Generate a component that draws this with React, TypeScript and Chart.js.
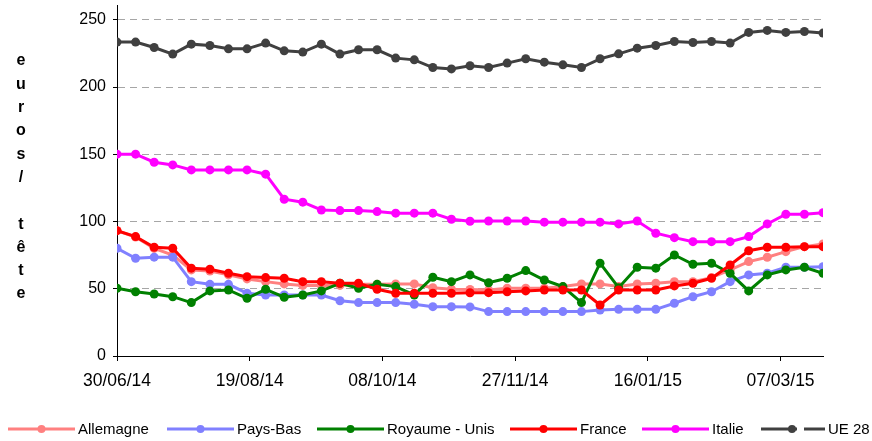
import React, { useEffect, useRef } from "react";
import { Chart, registerables } from "chart.js";

Chart.register(...registerables);

// Weekly observation dates
const weekDates = [
  "2014-06-30", "2014-07-07", "2014-07-14", "2014-07-21", "2014-07-28",
  "2014-08-04", "2014-08-11", "2014-08-18", "2014-08-25", "2014-09-01",
  "2014-09-08", "2014-09-15", "2014-09-22", "2014-09-29", "2014-10-06",
  "2014-10-13", "2014-10-20", "2014-10-27", "2014-11-03", "2014-11-10",
  "2014-11-17", "2014-11-24", "2014-12-01", "2014-12-08", "2014-12-15",
  "2014-12-22", "2014-12-29", "2015-01-05", "2015-01-12", "2015-01-19",
  "2015-01-26", "2015-02-02", "2015-02-09", "2015-02-16", "2015-02-23",
  "2015-03-02", "2015-03-09", "2015-03-16", "2015-03-23",
];

const tickLabels = ["30/06/14", "19/08/14", "08/10/14", "27/11/14", "16/01/15", "07/03/15"];

const seriesNames = ["Allemagne", "Pays-Bas", "Royaume - Unis", "France", "Italie", "UE 28"];

const allemagne = [
  93.2, 88.5, 80, 75, 64, 63.2, 60.3, 57.3, 55.3, 53.6,
  52.5, 52.5, 52.5, 53.3, 53.3, 53.6, 53.6, 50.8, 49.6, 49.5,
  49.1, 50.4, 50.4, 50.4, 51.6, 53.6, 53.6, 51.6, 53.6, 54.1,
  55.3, 55.3, 58.3, 64.0, 70.2, 73.4, 77.6, 81.3, 83.3,
];

const paysBas = [
  80.1, 72.7, 73.5, 73.5, 55.3, 53.3, 53.3, 46.7, 45.4, 45.4,
  45.4, 45.4, 41.1, 39.7, 39.7, 39.7, 38.5, 36.7, 36.7, 36.5,
  33.0, 33.0, 33.0, 33.0, 33.0, 33.0, 34.2, 34.7, 34.7, 34.7,
  39.2, 44.1, 47.8, 55.3, 60.3, 61.5, 66.0, 66.0, 66.4,
];

const royaumeUni = [
  50.4, 47.8, 46.1, 44.1, 39.7, 48.4, 49.1, 42.9, 49.6, 43.7,
  45.4, 48.4, 54.1, 50.4, 53.3, 51.6, 45.4, 58.6, 55.3, 60.3,
  54.5, 57.8, 63.5, 56.5, 51.6, 39.7, 69.0, 50.8, 66.0, 65.3,
  75.1, 68.2, 69.0, 61.5, 48.4, 60.3, 64.0, 66.0, 61.5,
];

const france = [
  93.2, 88.8, 80.9, 80.1, 65.3, 64.5, 61.5, 59.0, 58.3, 57.8,
  55.3, 55.3, 54.1, 54.1, 49.6, 46.7, 46.7, 46.7, 46.7, 47.0,
  47.1, 47.8, 48.4, 49.1, 49.1, 49.1, 37.9, 49.1, 49.1, 49.1,
  52.1, 54.1, 57.8, 67.7, 78.3, 80.9, 80.9, 81.3, 81.3,
];

const italie = [
  150.1, 150.1, 144.1, 142.1, 138.4, 138.4, 138.4, 138.4, 135.2, 116.6,
  114.4, 108.6, 108.1, 108.1, 107.4, 106.2, 106.2, 106.2, 101.7, 100.2,
  100.4, 100.4, 100.4, 99.5, 99.5, 99.5, 99.5, 98.2, 100.4, 91.3,
  88.0, 85.0, 85.0, 85.0, 88.8, 98.2, 105.4, 105.4, 106.6,
];

const ue28 = [
  233.4, 233.4, 229.4, 224.5, 231.9, 230.9, 228.4, 228.4, 232.7, 226.9,
  226.0, 231.9, 224.5, 227.7, 227.7, 221.5, 220.2, 214.5, 213.5, 215.8,
  214.5, 217.8, 221.0, 218.5, 216.5, 214.5, 221.0, 224.7, 228.9, 230.9,
  233.9, 233.1, 233.9, 232.7, 240.6, 242.1, 240.6, 241.3, 240.1,
];

const seriesValues = [allemagne, paysBas, royaumeUni, france, italie, ue28];
const seriesColors = ["#FF8080", "#8080FF", "#008000", "#FF0000", "#FF00FF", "#404040"];

const yTitleLetters = ["e", "u", "r", "o", "s", "/", "", "t", "ê", "t", "e"];

const FONT = "'Liberation Sans', Arial, Helvetica, sans-serif";
const DAY = 86400000;
const startMs = Date.parse(weekDates[0] + "T00:00:00Z");
const dayOffsets = weekDates.map((d) => Math.round((Date.parse(d + "T00:00:00Z") - startMs) / DAY));
const lastDay = dayOffsets[dayOffsets.length - 1];

const overlayPlugin = {
  id: "overlay",
  afterDraw(chart: any) {
    const ctx: CanvasRenderingContext2D = chart.ctx;
    ctx.save();
    // vertical stacked axis title
    ctx.fillStyle = "#000";
    ctx.font = `bold 16px ${FONT}`;
    ctx.textAlign = "center";
    ctx.textBaseline = "middle";
    yTitleLetters.forEach((ch, i) => {
      if (ch) ctx.fillText(ch, 21, 61 + i * 23.3);
    });

    // legend
    const starts = [8, 167, 317, 510, 642, 761];
    const y = 429;
    ctx.font = `15px ${FONT}`;
    ctx.textAlign = "left";
    ctx.textBaseline = "middle";
    seriesNames.forEach((name, i) => {
      const x0 = starts[i];
      ctx.strokeStyle = seriesColors[i];
      ctx.fillStyle = seriesColors[i];
      ctx.lineWidth = 3;
      let dotX: number;
      let textX: number;
      if (i === 5) {
        ctx.beginPath();
        ctx.moveTo(x0, y);
        ctx.lineTo(x0 + 36, y);
        ctx.moveTo(x0 + 43, y);
        ctx.lineTo(x0 + 64, y);
        ctx.stroke();
        dotX = x0 + 31;
        textX = x0 + 67;
      } else {
        ctx.beginPath();
        ctx.moveTo(x0, y);
        ctx.lineTo(x0 + 67, y);
        ctx.stroke();
        dotX = x0 + 33.5;
        textX = x0 + 70;
      }
      ctx.beginPath();
      ctx.arc(dotX, y, 4, 0, Math.PI * 2);
      ctx.fill();
      ctx.fillStyle = "#000";
      ctx.fillText(name, textX, y + 1);
    });
    ctx.restore();
  },
};

export default function App() {
  const canvasRef = useRef<HTMLCanvasElement | null>(null);

  useEffect(() => {
    if (!canvasRef.current) return;
    const datasets = seriesNames.map((name, i) => ({
      label: name,
      data: seriesValues[i].map((v, j) => ({ x: dayOffsets[j], y: v })),
      borderColor: seriesColors[i],
      backgroundColor: seriesColors[i],
      pointBackgroundColor: seriesColors[i],
      pointBorderColor: seriesColors[i],
      borderWidth: 3,
      pointRadius: 4.5,
      pointBorderWidth: 0,
      tension: 0,
      fill: false,
      order: seriesNames.length - i,
    }));

    const chart = new Chart(canvasRef.current, {
      type: "line",
      data: { datasets },
      options: {
        responsive: false,
        animation: false,
        devicePixelRatio: 1,
        layout: { padding: { top: 5, right: 49, bottom: 0, left: 0 } },
        plugins: {
          legend: { display: false },
          tooltip: { enabled: false },
        },
        scales: {
          x: {
            type: "linear",
            min: 0,
            max: lastDay,
            ticks: {
              stepSize: 50,
              includeBounds: false,
              autoSkip: false,
              maxRotation: 0,
              color: "#000",
              font: { family: FONT, size: 17.5 },
              padding: 10,
              callback: (v: any) => tickLabels[Math.round(Number(v) / 50)] ?? "",
            },
            grid: {
              drawOnChartArea: false,
              drawTicks: true,
              tickLength: 5,
              tickColor: "#000",
              color: "#000",
            },
            border: { color: "#000", width: 1 },
            afterFit: (s: any) => {
              s.height = 85;
            },
          },
          y: {
            min: 0,
            max: 261,
            ticks: {
              stepSize: 50,
              includeBounds: false,
              color: "#000",
              font: { family: FONT, size: 16 },
              padding: 7,
            },
            grid: {
              color: (c: any) => (c.tick && c.tick.value === 0 ? "rgba(0,0,0,0)" : "#A6A6A6"),
              tickColor: "#000",
              tickLength: 4,
              lineWidth: 1,
            },
            border: { color: "#000", width: 1, dash: [7, 5] },
            afterFit: (s: any) => {
              s.width = 117;
              s.paddingTop = 0;
              s.paddingBottom = 0;
            },
          },
        },
      },
      plugins: [overlayPlugin],
    });
    return () => chart.destroy();
  }, []);

  return (
    <div style={{ position: "absolute", left: 0, top: 0, width: 872, height: 441, background: "#fff" }}>
      <canvas ref={canvasRef} width={872} height={441} style={{ display: "block" }} />
    </div>
  );
}
